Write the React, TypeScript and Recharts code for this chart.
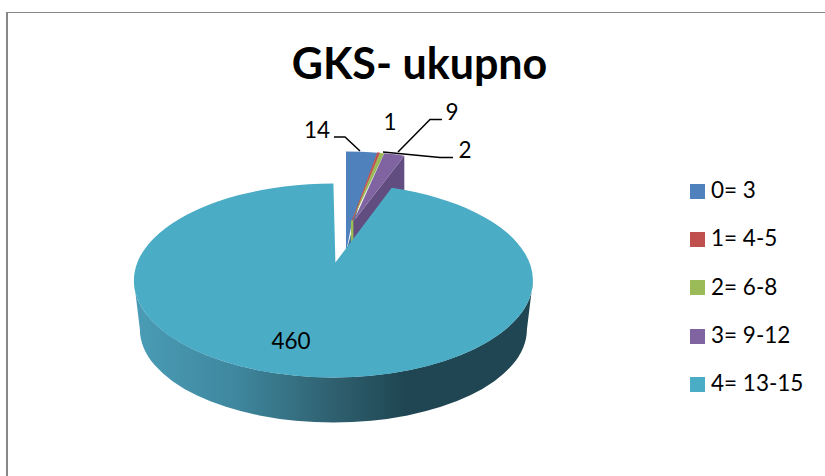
import React from "react";
import { PieChart, Pie, Legend } from "recharts";

const categories = ["0= 3", "1= 4-5", "2= 6-8", "3= 9-12", "4= 13-15"];
const counts = [14, 1, 2, 9, 460];
const colors = ["#4f81bd", "#c0504d", "#9bbb59", "#8064a2", "#4bacc6"];
const wallColors = ["#3d6a9e", "#9c3f3c", "#7c9a42", "#614d80", "#1f4652"];

const pieData = categories.map((name, i) => ({
  name,
  value: counts[i],
  fill: colors[i],
}));

const FONT = "Lato, Carlito, sans-serif";
const TILT = 0.486; // ellipse height / width of the pie top
const FORESHORTEN = 0.875; // perspective squeeze of the angles near the back
const DEPTH = 49;

// how far the small exploded slices and the big one sit from the pie centre
const explode = [
  { dx: 12.6, dy: -32, vx: 19, vy: -60 },
  { dx: 12.6, dy: -32, vx: 19, vy: -60 },
  { dx: 12.6, dy: -32, vx: 19, vy: -60 },
  { dx: 12.6, dy: -32, vx: 20, vy: -59 },
  { dx: 0, dy: 0, vx: 2, vy: -18 },
];

const labelSpots = [
  { x: 317, y: 138 },
  { x: 390, y: 130 },
  { x: 465, y: 158 },
  { x: 452, y: 120 },
  { x: 291, y: 349 },
];

const leaderLines: Record<number, string> = {
  0: "334,137 345,137 360,151",
  2: "383,152 440,157.5 453,157.5",
  3: "398,152 430,119.5 442,119.5",
};

const ellipsePoint = (
  cx: number,
  cy: number,
  rx: number,
  ry: number,
  deg: number,
) => {
  // deg is counter-clockwise from east, as Recharts gives it
  const clock = ((90 - deg) * Math.PI) / 180;
  const phi = Math.atan2(FORESHORTEN * Math.sin(clock), Math.cos(clock));
  return { x: cx + rx * Math.sin(phi), y: cy - ry * Math.cos(phi) };
};

function Slice3D(props: any) {
  const { cx, cy, outerRadius, startAngle, endAngle, index, fill } = props;
  const off = explode[index];
  const ecx = cx + off.dx;
  const ecy = cy + off.dy;
  const rx = outerRadius;
  const ry = outerRadius * TILT;
  const vx = cx + off.vx;
  const vy = cy + off.vy;
  const a = ellipsePoint(ecx, ecy, rx, ry, startAngle);
  const b = ellipsePoint(ecx, ecy, rx, ry, endAngle);
  const large = Math.abs(endAngle - startAngle) > 180 ? 1 : 0;
  const arc = `A${rx},${ry} 0 ${large} 1 ${b.x},${b.y}`;

  if (index === 4) {
    const botRx = rx - 6;
    const botRy = ry - 4;
    const botCy = cy + DEPTH;
    const wall = `M${cx - rx},${cy} L${cx - botRx},${botCy} A${botRx},${botRy} 0 0 0 ${cx + botRx},${botCy} L${cx + rx},${cy} A${rx},${ry} 0 0 1 ${cx - rx},${cy} Z`;
    return (
      <g>
        <path d={wall} fill="url(#tealWall)" />
        <path d={`M${vx},${vy} L${a.x},${a.y} ${arc} Z`} fill={fill} />
      </g>
    );
  }

  if (index === 0) {
    // blue runs further down its left edge and has a shaded strip by the cut
    const tipY = vy + 32;
    const tipX = ecx;
    const mid = { x: vx + (b.x - vx) * 0.35, y: vy + (b.y - vy) * 0.35 };
    return (
      <g>
        <path
          d={`M${tipX},${tipY} L${a.x},${a.y} ${arc} L${vx},${vy} Z`}
          fill={fill}
        />
        <path
          d={`M${mid.x},${mid.y} L${vx},${vy} L${vx},${tipY} L${tipX},${tipY} Z`}
          fill={wallColors[0]}
        />
      </g>
    );
  }

  return (
    <g>
      {index === 3 && (
        <path
          d={`M${b.x},${b.y} L${b.x},${b.y + DEPTH} L${vx},${vy + DEPTH} L${vx},${vy} Z`}
          fill={wallColors[3]}
        />
      )}
      {index === 2 && (
        <rect x={vx - 1.5} y={vy} width={4} height={DEPTH} fill={fill} />
      )}
      <path
        d={`M${vx},${vy} L${a.x},${a.y} ${arc} Z`}
        fill={fill}
        stroke={index === 1 ? fill : "none"}
        strokeWidth={0.8}
      />
    </g>
  );
}

function SliceLabel(props: any) {
  const { index, value } = props;
  const spot = labelSpots[index];
  return (
    <text
      x={spot.x}
      y={spot.y}
      textAnchor="middle"
      fontFamily={FONT}
      fontSize={22.5}
      fill="#000"
    >
      {value}
    </text>
  );
}

function LeaderLine(props: any) {
  const pts = leaderLines[props.index];
  if (!pts) return <g />;
  return <polyline points={pts} fill="none" stroke="#000" strokeWidth={1.5} />;
}

export default function App() {
  return (
    <div
      style={{
        position: "absolute",
        left: 0,
        top: 0,
        width: 825,
        height: 476,
        overflow: "hidden",
        background: "#fff",
      }}
    >
      <div
        style={{
          position: "absolute",
          left: 6,
          top: 12,
          width: 819,
          height: 464,
          borderLeft: "2px solid #888",
          borderTop: "1px solid #888",
        }}
      />
      <PieChart
        width={825}
        height={476}
        margin={{ top: 0, right: 0, bottom: 0, left: 0 }}
        style={{ position: "absolute", left: 0, top: 0 }}
      >
        <defs>
          <linearGradient
            id="tealWall"
            gradientUnits="userSpaceOnUse"
            x1="134"
            y1="0"
            x2="533"
            y2="0"
          >
            <stop offset="0%" stopColor="#4a9cb6" />
            <stop offset="25%" stopColor="#3f889f" />
            <stop offset="50%" stopColor="#2f606f" />
            <stop offset="68%" stopColor="#1f4652" />
            <stop offset="100%" stopColor="#1f4652" />
          </linearGradient>
        </defs>
        <text
          x={419.5}
          y={79}
          textAnchor="middle"
          fontFamily={FONT}
          fontWeight={700}
          fontSize={43}
          fill="#000"
        >
          GKS- ukupno
        </text>
        <Pie
          data={pieData}
          dataKey="value"
          nameKey="name"
          cx={333.4}
          cy={280.5}
          outerRadius={199.5}
          startAngle={90}
          endAngle={-270}
          stroke="none"
          shape={Slice3D}
          label={SliceLabel}
          labelLine={LeaderLine}
          isAnimationActive={false}
        />
        <Legend
          layout="vertical"
          align="right"
          verticalAlign="top"
          iconType="square"
          iconSize={15}
          itemSorter={null}
          wrapperStyle={{ left: 690, right: "auto", top: 163, width: 135 }}
          formatter={(value: string) => (
            <span
              style={{
                color: "#000",
                fontFamily: FONT,
                fontSize: 22.5,
                lineHeight: "48.3px",
                paddingLeft: 2,
                position: "relative",
                top: 3,
              }}
            >
              {value}
            </span>
          )}
        />
      </PieChart>
    </div>
  );
}
